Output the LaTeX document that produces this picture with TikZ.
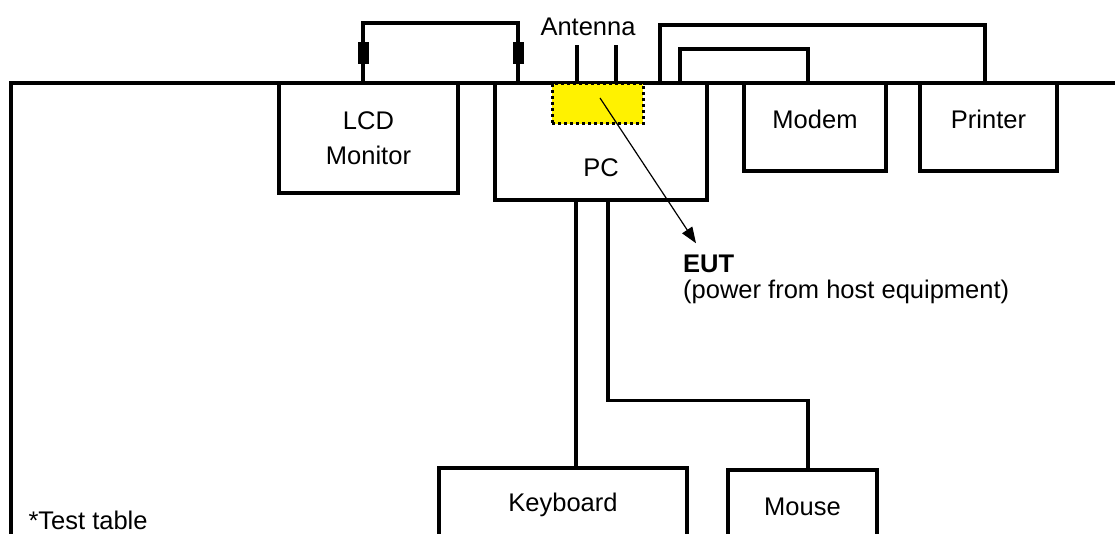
\documentclass[tikz,border=0pt]{standalone}
\usepackage{fontspec}
\setmainfont{Liberation Sans}
\usetikzlibrary{arrows.meta, positioning}

\begin{document}
\begin{tikzpicture}[
  x=1pt, y=1pt,
  box/.style={rectangle, draw=black, line width=3.5pt, fill=white,
              inner sep=0pt, align=center},
  cable/.style={line width=3.5pt},
  ferrite/.style={rectangle, fill=black, inner sep=0pt,
              minimum width=11pt, minimum height=22pt},
  eutbox/.style={rectangle, fill=yellow, draw=black, line width=3pt,
              dash pattern=on 3pt off 3pt, inner sep=0pt,
              minimum width=91pt, minimum height=40pt},
  arr/.style={-{Triangle[length=16pt, width=12pt]}, line width=1.2pt},
  every node/.style={font=\fontsize{25.5}{28}\selectfont}
]
\useasboundingbox (0,0) rectangle (1115,534);
\clip (0,0) rectangle (1115,534);

% Test table
\coordinate (tl) at (11,451);
\draw[cable] (tl |- 0,-5) -- (tl) -- (1120,451);
\node[anchor=west] (table) at (25,14) {*Test table};

% Devices on the table
\node[box, minimum width=179, minimum height=110] (lcd) at (368.5,396) {LCD\\[7pt]Monitor};
\node[box, minimum width=212, minimum height=117] (pc) at (601,392.5) {};
\node (pclabel) at (601,366) {PC};
\node[box, minimum width=142, minimum height=88,
      label={[yshift=8pt]center:Modem}] (modem) at (815,407) {};
\node[box, minimum width=137, minimum height=88,
      label={[yshift=8pt]center:Printer}] (printer) at (988.5,407) {};
\draw[cable] (tl) -- (1120,451);

% EUT inside the PC
\node[eutbox] (eut) at (597.5,430) {};
\node (antlabel) at (588,507) {Antenna};
\draw[cable] ([xshift=-24pt]pc.north) -- ++(0,36);
\draw[cable] ([xshift=15pt]pc.north) -- ++(0,36);

% Bottom row
\node[box, minimum width=248, minimum height=74] (kbd) at (563,29) {Keyboard};
\node[box, minimum width=149, minimum height=74] (mouse) at (802.5,27) {Mouse};

% Cables
\draw[cable] ([xshift=-5.5pt]lcd.north) -- ++(0,58) -| ([xshift=-83pt]pc.north);
\node[ferrite] (fl) at ([xshift=-5.5pt, yshift=28pt]lcd.north) {};
\node[ferrite] (fr) at ([xshift=-83pt, yshift=28pt]pc.north) {};
\draw[cable] ([xshift=59pt]pc.north) -- ++(0,56) -| ([xshift=-3.5pt]printer.north);
\draw[cable] ([xshift=79pt]pc.north) -- ++(0,32) -| ([xshift=-7pt]modem.north);
\draw[cable] ([xshift=-25pt]pc.south) -- ([xshift=-25pt]pc.south |- kbd.north);
\draw[cable] ([xshift=7pt]pc.south) -- ++(0,-199) -| ([xshift=5.5pt]mouse.north);

% Label
\node[anchor=base west, align=left, inner sep=0pt,
      font=\fontsize{25.5}{26}\selectfont] (eutlabel) at (683,235)
      {\textbf{EUT}\\(power from host equipment)};
\draw[arr] ([shift={(2.5pt,6pt)}]eut.center) -- ([xshift=13pt, yshift=12pt]eutlabel.north west);
\end{tikzpicture}
\end{document}
